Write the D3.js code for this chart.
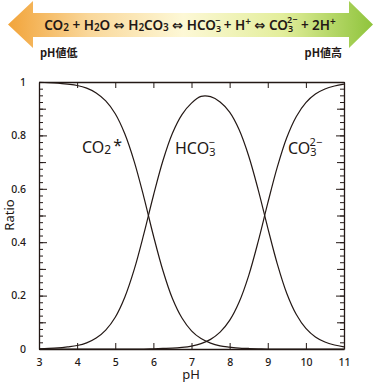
<!doctype html>
<html lang="ja">
<head>
<meta charset="UTF-8">
<title>Carbonate species vs pH</title>
<style>
  body { margin: 0; background: #fff; }
  svg { display: block; font-family: "Noto Sans", "DejaVu Sans", "Noto Sans CJK JP", sans-serif; }
  .axis path, .axis line { stroke: #231815; }
  .axis text { fill: #231815; font-size: 10.5px; font-weight: 500; font-family: "Noto Sans", sans-serif; }
</style>
</head>
<body>
<svg id="chart" width="374" height="383"></svg>
<script src="https://d3js.org/d3.v7.min.js"></script>
<script>
// pH sample points and ratios
var ph = [3, 3.25, 3.5, 3.75, 4, 4.25, 4.5, 4.75, 5, 5.25, 5.5, 5.75, 6, 6.25, 6.5, 6.75,
          7, 7.25, 7.5, 7.75, 8, 8.25, 8.5, 8.75, 9, 9.25, 9.5, 9.75, 10, 10.25, 10.5, 10.75, 11];
var co2 = [0.999, 0.998, 0.996, 0.992, 0.987, 0.977, 0.959, 0.929, 0.881, 0.806, 0.701, 0.569,
           0.425, 0.294, 0.189, 0.116, 0.068, 0.039, 0.022, 0.012, 0.007, 0.003, 0.002, 0.001,
           0, 0, 0, 0, 0, 0, 0, 0, 0];
var hco3 = [0.001, 0.002, 0.004, 0.008, 0.013, 0.023, 0.041, 0.071, 0.119, 0.194, 0.299, 0.431,
            0.574, 0.705, 0.808, 0.878, 0.921, 0.946, 0.945, 0.925, 0.887, 0.821, 0.723, 0.596,
            0.454, 0.319, 0.208, 0.129, 0.077, 0.045, 0.026, 0.015, 0.008];
var co3 = [0, 0, 0, 0, 0, 0, 0, 0, 0, 0, 0, 0, 0.001, 0.002, 0.003, 0.006, 0.011, 0.020, 0.036,
           0.063, 0.107, 0.176, 0.275, 0.403, 0.546, 0.681, 0.792, 0.871, 0.923, 0.955, 0.974,
           0.985, 0.992];
var xTicks = [3, 4, 5, 6, 7, 8, 9, 10, 11];
var yTicks = [0, 0.2, 0.4, 0.6, 0.8, 1];
var yTickLabels = ["0", "0.2", "0.4", "0.6", "0.8", "1"];

var ink = "#231815";
var svg = d3.select("#chart");

// ---- banner arrow ----
var defs = svg.append("defs");
var grad = defs.append("linearGradient").attr("id", "band")
  .attr("x1", "0%").attr("x2", "100%").attr("y1", "0%").attr("y2", "0%");
grad.append("stop").attr("offset", "0%").attr("stop-color", "#f2a43a");
grad.append("stop").attr("offset", "22%").attr("stop-color", "#f9d79a");
grad.append("stop").attr("offset", "48%").attr("stop-color", "#fdf8d6");
grad.append("stop").attr("offset", "75%").attr("stop-color", "#e3ee9c");
grad.append("stop").attr("offset", "100%").attr("stop-color", "#8fc43c");

svg.append("polygon")
  .attr("points", "8,24.5 33,1 33,13 349,13 349,1 373,24.5 349,48 349,37 33,37 33,48")
  .attr("fill", "url(#band)");

var eq = svg.append("text")
  .attr("x", 190).attr("y", 30)
  .attr("text-anchor", "middle")
  .attr("fill", ink)
  .style("font-size", "13.5px")
  .style("font-weight", "600");
function part(t, opt) {
  opt = opt || {};
  var s = eq.append("tspan").text(t);
  if (opt.size) s.style("font-size", opt.size + "px");
  if (opt.dy) s.attr("dy", opt.dy);
  if (opt.dx) s.attr("dx", opt.dx);
  if (opt.font) s.style("font-family", opt.font);
  return s;
}
part("CO"); part("2", {size: 10, dy: 1}); part(" + H", {dy: -1}); part("2", {size: 10, dy: 1});
part("O ", {dy: -1}); part("\u21D4", {font: "DejaVu Sans", size: 13}); part(" H");
part("2", {size: 10, dy: 1}); part("CO", {dy: -1}); part("3", {size: 10, dy: 1});
part(" ", {dy: -1}); part("\u21D4", {font: "DejaVu Sans", size: 13}); part(" HCO");
part("3", {size: 9, dy: 2}); part("\u2212", {size: 9, dy: -8, dx: -6});
part(" + H", {dy: 6}); part("+", {size: 10, dy: -5}); part(" ", {dy: 5});
part("\u21D4", {font: "DejaVu Sans", size: 13}); part(" CO");
part("3", {size: 9, dy: 2}); part("2\u2212", {size: 9, dy: -9, dx: -6});
part(" + 2H", {dy: 7}); part("+", {size: 10, dy: -5});

svg.append("text").attr("x", 40).attr("y", 57).attr("fill", ink)
  .style("font-size", "11px").style("font-weight", "700")
  .style("font-family", "'Noto Sans CJK JP', sans-serif").text("pH値低");
svg.append("text").attr("x", 342).attr("y", 57).attr("fill", ink)
  .attr("text-anchor", "end")
  .style("font-size", "11px").style("font-weight", "700")
  .style("font-family", "'Noto Sans CJK JP', sans-serif").text("pH値高");

// ---- chart ----
var plotL = 39, plotR = 344, plotT = 82, plotB = 349;
var x = d3.scaleLinear().domain([3, 11]).range([plotL, plotR]);
var y = d3.scaleLinear().domain([0, 1]).range([plotB, plotT]);

var minor = d3.range(0, 41).map(function(i) { return i * 0.025; });
var mid = [0.1, 0.3, 0.5, 0.7, 0.9];

// bottom axis
var gx = svg.append("g").attr("class", "axis").attr("transform", "translate(0," + plotB + ")")
  .call(d3.axisBottom(x).tickValues(xTicks).tickFormat(d3.format("d")).tickSizeInner(-6).tickSizeOuter(0).tickPadding(10));
gx.select(".domain").attr("stroke-width", 1.3);
// top axis
var gt = svg.append("g").attr("class", "axis").attr("transform", "translate(0," + plotT + ")")
  .call(d3.axisTop(x).tickValues(xTicks).tickFormat("").tickSizeInner(-6).tickSizeOuter(0));
gt.select(".domain").attr("stroke-width", 1.3);

// left and right axes
function yAxis(gen, tx, labels) {
  var g = svg.append("g").attr("class", "axis").attr("transform", "translate(" + tx + ",0)");
  g.append("g").call(gen(y).tickValues(minor).tickFormat("").tickSizeInner(-4).tickSizeOuter(0))
    .call(function(s) { s.select(".domain").remove(); s.selectAll("line").attr("stroke", "#8a8483"); });
  g.append("g").call(gen(y).tickValues(mid).tickFormat("").tickSizeInner(-7).tickSizeOuter(0))
    .call(function(s) { s.select(".domain").remove(); });
  g.append("g").call(gen(y).tickValues(yTicks)
      .tickFormat(function(d, i) { return labels ? yTickLabels[i] : ""; })
      .tickSizeInner(-8).tickSizeOuter(0).tickPadding(labels ? 13 : 3))
    .call(function(s) { s.select(".domain").attr("stroke-width", 1.3); });
}
yAxis(d3.axisLeft, plotL, true);
yAxis(d3.axisRight, plotR, false);

svg.append("text").attr("x", 191).attr("y", 379).attr("text-anchor", "middle")
  .attr("fill", ink).style("font-size", "13px").text("pH");
svg.append("text").attr("transform", "translate(14,215) rotate(-90)").attr("text-anchor", "middle")
  .attr("fill", ink).style("font-size", "13px").text("Ratio");

// curves
var line = d3.line()
  .x(function(d) { return x(d[0]); })
  .y(function(d) { return y(d[1]); })
  .curve(d3.curveCatmullRom.alpha(0.5));
[co2, hco3, co3].forEach(function(series) {
  svg.append("path")
    .datum(ph.map(function(p, i) { return [p, series[i]]; }))
    .attr("d", line)
    .attr("fill", "none")
    .attr("stroke", ink)
    .attr("stroke-width", 1.2);
});

// species labels
var lab1 = svg.append("text").attr("x", 82).attr("y", 153).attr("fill", ink).style("font-size", "16px");
lab1.append("tspan").text("CO");
lab1.append("tspan").text("2").style("font-size", "12px").attr("dy", 1);
lab1.append("tspan").text("*").attr("dx", 2).attr("dy", -3);

var lab2 = svg.append("text").attr("x", 175).attr("y", 154).attr("fill", ink).style("font-size", "16px");
lab2.append("tspan").text("HCO");
lab2.append("tspan").text("3").style("font-size", "11px").attr("dy", 2);
lab2.append("tspan").text("\u2212").style("font-size", "11px").attr("dx", -7).attr("dy", -10);

var lab3 = svg.append("text").attr("x", 288).attr("y", 154).attr("fill", ink).style("font-size", "16px");
lab3.append("tspan").text("CO");
lab3.append("tspan").text("3").style("font-size", "11px").attr("dy", 2);
lab3.append("tspan").text("2\u2212").style("font-size", "11px").attr("dx", -7).attr("dy", -10);
</script>
</body>
</html>
